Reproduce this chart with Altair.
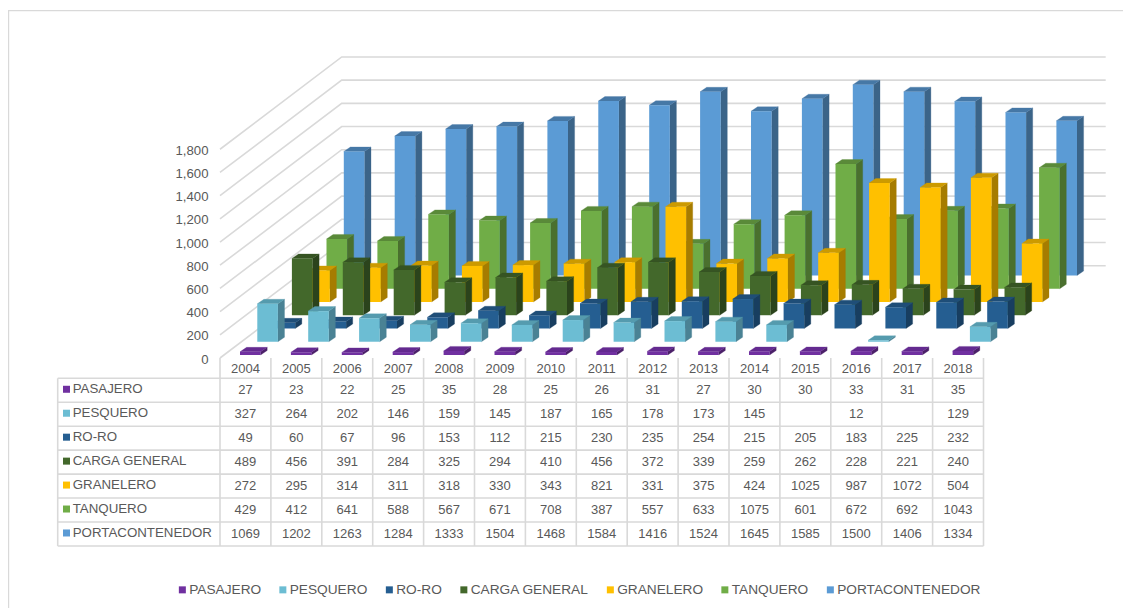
import altair as alt
import pandas as pd

YEARS = [2004, 2005, 2006, 2007, 2008, 2009, 2010, 2011, 2012, 2013, 2014, 2015, 2016, 2017, 2018]
PASAJERO = [27, 23, 22, 25, 35, 28, 25, 26, 31, 27, 30, 30, 33, 31, 35]
PESQUERO = [327, 264, 202, 146, 159, 145, 187, 165, 178, 173, 145, None, 12, None, 129]
RORO = [49, 60, 67, 96, 153, 112, 215, 230, 235, 254, 215, 205, 183, 225, 232]
CARGA = [489, 456, 391, 284, 325, 294, 410, 456, 372, 339, 259, 262, 228, 221, 240]
GRANELERO = [272, 295, 314, 311, 318, 330, 343, 821, 331, 375, 424, 1025, 987, 1072, 504]
TANQUERO = [429, 412, 641, 588, 567, 671, 708, 387, 557, 633, 1075, 601, 672, 692, 1043]
PORTA = [1069, 1202, 1263, 1284, 1333, 1504, 1468, 1584, 1416, 1524, 1645, 1585, 1500, 1406, 1334]

NAMES = ["PASAJERO", "PESQUERO", "RO-RO", "CARGA GENERAL", "GRANELERO", "TANQUERO", "PORTACONTENEDOR"]
VALUES = [PASAJERO, PESQUERO, RORO, CARGA, GRANELERO, TANQUERO, PORTA]
FRONT = ["#7030A0", "#6CBDD3", "#255E91", "#43682B", "#FFC000", "#70AD47", "#5B9BD5"]
SIDE = ["#4B2069", "#4A8294", "#183E60", "#2B431C", "#A67C00", "#4A702E", "#3B6488"]
TOP = ["#642A90", "#559BAE", "#1F4E78", "#365423", "#CC9A00", "#5A8A39", "#4678A6"]
TICKS = list(range(0, 1801, 200))

# screen layout of the chart: one year = 50.9 px, one unit of value = 0.116 px
PX_U = 50.9
PX_V = 208.75 / 1800
X0, Y0 = 220.0, 358.0
GRID = "#D9D9D9"
TXT = "#595959"
FONT = "Liberation Sans"


def u(px):
    return (px - X0) / PX_U


def v(py):
    return (Y0 - py) / PX_V


x_s = alt.Scale(domain=[0, 15], nice=False, zero=False)
y_s = alt.Scale(domain=[0, 1800], nice=False, zero=False)
y_axis = alt.Axis(values=TICKS, format=",d", ticks=False, domain=False, grid=False, title=None,
                  labelPadding=12, labelOffset=1, labelFont=FONT, labelFontSize=13.2, labelColor=TXT)
X = lambda f: alt.X(f, type="quantitative", scale=x_s, axis=None, title=None)
Y = lambda f: alt.Y(f, type="quantitative", scale=y_s, axis=y_axis, title=None)
color = alt.Color(
    "serie:N",
    scale=alt.Scale(domain=NAMES, range=FRONT),
    sort=NAMES,
    legend=alt.Legend(
        title=None, orient="none", direction="horizontal", columns=7, gridAlign="none",
        legendX=178 - X0 - 2.5, legendY=583 - 149.25, columnPadding=14.5, labelOffset=0,
        symbolType="square", symbolSize=49, symbolStrokeWidth=0,
        labelFont=FONT, labelFontSize=13.7, labelColor=TXT,
    ),
)

BAR_W = 20.6 / PX_U
OFF_U = 20.0 / PX_U
STEP_U = 17.3 / PX_U
BASE_V = 26.0
STEP_V = 13.25 / PX_V
SIDE_U = 6.6 / PX_U
SIDE_V = 4.5 / PX_V

layers = []

# back wall and side wall gridlines
grid_rows = []
for t in TICKS:
    grid_rows += [
        {"t": t, "x": 0.0, "y": t},
        {"t": t, "x": u(341.7), "y": t + 92.3 / PX_V},
        {"t": t, "x": u(1105.7), "y": t + 92.3 / PX_V},
    ]
layers.append(
    alt.Chart(pd.DataFrame(grid_rows)).mark_line(color=GRID, strokeWidth=1.6).encode(
        x=X("x"), y=Y("y"), detail="t:N",
    )
)

# 3D columns, back series first
for k in range(6, -1, -1):
    name = NAMES[k]
    front, side, top = [], [], []
    for i, val in enumerate(VALUES[k]):
        if val is None:
            continue
        x0 = i + OFF_U + k * STEP_U
        x1 = x0 + BAR_W
        b = BASE_V + k * STEP_V
        t = b + val
        front.append({"serie": name, "x0": x0, "x1": x1, "b": b, "t": t})
        side += [
            {"i": i, "x": x1, "b": b, "t": t},
            {"i": i, "x": x1 + SIDE_U, "b": b + SIDE_V, "t": t + SIDE_V},
        ]
        top += [
            {"i": i, "y": t, "x0": x0, "x1": x1},
            {"i": i, "y": t + SIDE_V, "x0": x0 + SIDE_U, "x1": x1 + SIDE_U},
        ]
    layers.append(
        alt.Chart(pd.DataFrame(side)).mark_area(fill=SIDE[k], opacity=1, stroke=SIDE[k], strokeWidth=0.3).encode(
            x=X("x"), y=Y("t"), y2=alt.Y2("b"), detail="i:N"
        )
    )
    layers.append(
        alt.Chart(pd.DataFrame(top)).mark_area(orient="horizontal", fill=TOP[k], opacity=1, stroke=TOP[k], strokeWidth=0.3).encode(
            y=Y("y"), x=X("x0"), x2=alt.X2("x1"), detail="i:N"
        )
    )
    layers.append(
        alt.Chart(pd.DataFrame(front)).mark_bar(cornerRadius=0, opacity=1).encode(
            x=X("x0"), x2=alt.X2("x1"), y=Y("t"), y2=alt.Y2("b"), color=color
        )
    )

# data table
T_TOP = 378.3
ROW = 23.95
T_BOTTOM = T_TOP + 7 * ROW
T_LEFT = 57.7
h_rows = [{"x0": u(T_LEFT), "x1": 15.0, "y": v(T_TOP + r * ROW)} for r in range(8)]
layers.append(
    alt.Chart(pd.DataFrame(h_rows)).mark_rule(color=GRID, strokeWidth=1.6).encode(
        x=X("x0"), x2=alt.X2("x1"), y=Y("y")
    )
)
v_rows = [{"x": float(c), "y0": v(Y0), "y1": v(T_BOTTOM)} for c in range(16)]
v_rows.append({"x": u(T_LEFT), "y0": v(T_TOP), "y1": v(T_BOTTOM)})
layers.append(
    alt.Chart(pd.DataFrame(v_rows)).mark_rule(color=GRID, strokeWidth=1.6).encode(
        x=X("x"), y=Y("y0"), y2=alt.Y2("y1")
    )
)
cells = [{"x": i + 0.5, "y": v(368.5), "s": str(y)} for i, y in enumerate(YEARS)]
labels, keys = [], []
for r, (name, vals) in enumerate(zip(NAMES, VALUES)):
    cy = T_TOP + (r + 0.5) * ROW
    labels.append({"x": u(72.7), "y": v(cy - 1), "s": name})
    keys.append({"x": u(66.5), "y": v(cy - 1), "serie": name})
    for i, val in enumerate(vals):
        if val is not None:
            cells.append({"x": i + 0.5, "y": v(cy), "s": str(val)})
layers.append(
    alt.Chart(pd.DataFrame(cells)).mark_text(align="center", font=FONT, fontSize=13, color=TXT, baseline="middle").encode(
        x=X("x"), y=Y("y"), text="s:N"
    )
)
layers.append(
    alt.Chart(pd.DataFrame(labels)).mark_text(align="left", font=FONT, fontSize=13.3, color=TXT, baseline="middle").encode(
        x=X("x"), y=Y("y"), text="s:N"
    )
)
layers.append(
    alt.Chart(pd.DataFrame(keys)).mark_square(size=49, opacity=1, strokeWidth=0).encode(
        x=X("x"), y=Y("y"), color=color
    )
)

# chart frame
layers.append(
    alt.Chart(pd.DataFrame([{"x0": u(8), "x1": u(1123), "y": v(10.7)}])).mark_rule(color=GRID, strokeWidth=1.2).encode(
        x=X("x0"), x2=alt.X2("x1"), y=Y("y")
    )
)
layers.append(
    alt.Chart(pd.DataFrame([{"x": u(8.2), "y0": v(10), "y1": v(608)}])).mark_rule(color=GRID, strokeWidth=2).encode(
        x=X("x"), y=Y("y0"), y2=alt.Y2("y1")
    )
)

chart = (
    alt.layer(*layers)
    .resolve_scale(x="shared", y="shared", color="shared")
    .properties(
        width=15 * PX_U,
        height=208.75,
        autosize=alt.AutoSizeParams(type="none"),
        padding={"left": X0 - 8, "top": 149.25 - 8, "right": 1123 - (X0 + 15 * PX_U), "bottom": 608 - Y0},
        background="white",
    )
    .configure_view(stroke=None)
)

chart.save("out.html", embed_options={"renderer": "svg", "actions": False})
